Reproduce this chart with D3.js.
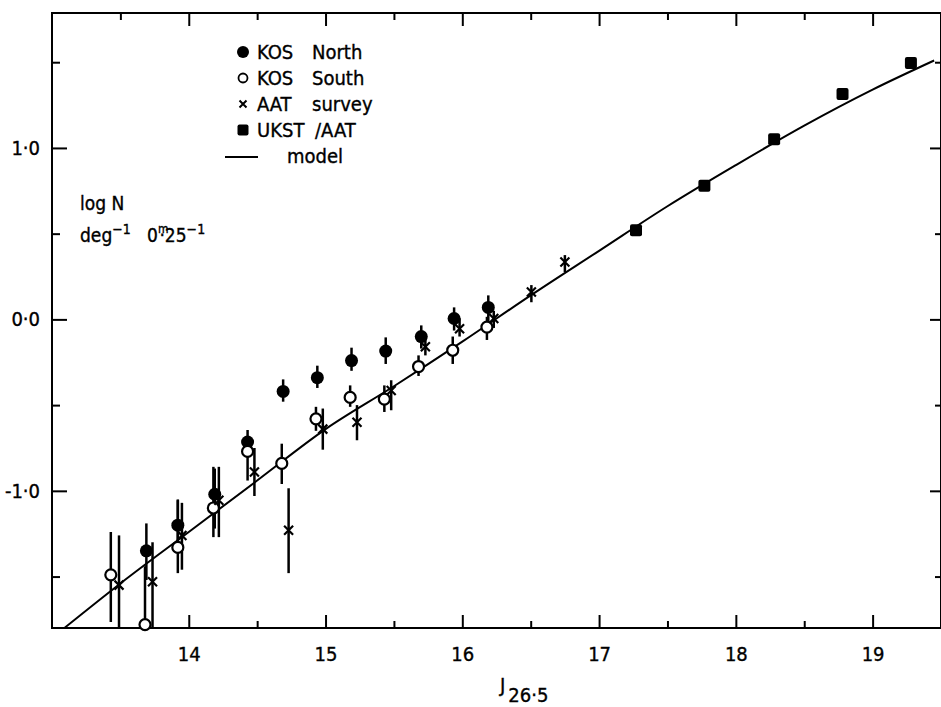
<!DOCTYPE html>
<html>
<head>
<meta charset="utf-8">
<script src="https://cdn.jsdelivr.net/npm/d3@7"></script>
<style>
  body { margin: 0; background: #fff; }
  svg text { font-family: "Liberation Sans Narrow", "DejaVu Sans Condensed", "Roboto", sans-serif; fill: #000; stroke: #000; stroke-width: 0.35px; }
</style>
</head>
<body>
<svg id="chart" width="941" height="707"></svg>
<script>
// KOS North (filled circles)
var kosNorthJ    = [13.69, 13.92, 14.19, 14.43, 14.69, 14.94, 15.19, 15.44, 15.70, 15.94, 16.19];
var kosNorthLogN = [-1.35, -1.20, -1.02, -0.715, -0.42, -0.34, -0.24, -0.185, -0.10, 0.005, 0.07];
var kosNorthLo   = [-1.52, -1.36, -1.22, -0.80, -0.48, -0.40, -0.30, -0.26, -0.17, -0.065, -0.01];
var kosNorthHi   = [-1.19, -1.05, -0.87, -0.645, -0.35, -0.27, -0.165, -0.105, -0.035, 0.07, 0.14];

// KOS South (open circles)
var kosSouthJ    = [13.43, 13.68, 13.92, 14.18, 14.43, 14.68, 14.93, 15.18, 15.43, 15.68, 15.93, 16.18];
var kosSouthLogN = [-1.49, -1.78, -1.33, -1.10, -0.77, -0.84, -0.58, -0.455, -0.465, -0.275, -0.18, -0.045];
var kosSouthLo   = [-1.765, -1.80, -1.48, -1.27, -0.94, -0.96, -0.65, -0.51, -0.54, -0.33, -0.26, -0.12];
var kosSouthHi   = [-1.24, -1.44, -1.055, -0.86, -0.685, -0.725, -0.51, -0.385, -0.385, -0.21, -0.10, 0.015];

// AAT survey (crosses)
var aatJ    = [13.49, 13.735, 13.95, 14.22, 14.48, 14.73, 14.98, 15.23, 15.48, 15.73, 15.98, 16.23, 16.505, 16.75];
var aatLogN = [-1.55, -1.53, -1.26, -1.055, -0.89, -1.23, -0.64, -0.60, -0.415, -0.16, -0.055, 0.005, 0.16, 0.335];
var aatLo   = [-1.80, -1.80, -1.46, -1.27, -1.03, -1.48, -0.76, -0.705, -0.53, -0.21, -0.10, -0.05, 0.10, 0.276];
var aatHi   = [-1.26, -1.30, -1.07, -0.86, -0.75, -0.985, -0.52, -0.50, -0.355, -0.10, 0.006, 0.05, 0.20, 0.375];

// UKST / AAT (filled squares)
var ukstJ    = [17.27, 17.77, 18.28, 18.78, 19.28];
var ukstLogN = [0.52, 0.78, 1.05, 1.315, 1.495];

// model curve
var modelJ    = [13.09, 13.5, 14.0, 14.5, 15.0, 15.5, 16.0, 16.5, 17.0, 17.5, 18.0, 18.5, 19.0, 19.45];
var modelLogN = [-1.80, -1.54, -1.24, -0.94, -0.64, -0.39, -0.13, 0.14, 0.40, 0.66, 0.90, 1.13, 1.34, 1.51];

// ticks
var xMajor = [14, 15, 16, 17, 18, 19];
var xMinorBottom = [14.5, 15.5, 16.5, 17.5, 18.5];
var xMinorTop = [13.5, 14.5, 15.5, 16.5, 17.5, 18.5, 19.5];
var yMajor = [-1, 0, 1];
var yMinor = [-1.5, -0.5, 0.5, 1.5];
var yLabels = {"1": "1·0", "0": "0·0", "-1": "-1·0"};

var svg = d3.select("#chart");
var padL = 52, padR = 941, padT = 13, padB = 628;

var x = d3.scaleLinear().domain([13, 19.5]).range([padL, padR]);
var y = d3.scaleLinear().domain([-1.8, 1.787]).range([padB, padT]);

function zip(a, b, c, d){
    return a.map(function(v, i){ return {j: v, n: b[i], lo: c ? c[i] : null, hi: d ? d[i] : null}; });
}

// frame
svg.append("rect")
    .attr("x", padL).attr("y", padT)
    .attr("width", padR - padL).attr("height", padB - padT)
    .attr("fill", "none").attr("stroke", "#000").attr("stroke-width", 2);

// axes with inward ticks
function tickStyle(g){
    g.select(".domain").remove();
    g.selectAll(".tick line").attr("stroke", "#000").attr("stroke-width", 2);
    g.selectAll("text").style("font-size", "20px");
}

svg.append("g").attr("transform", "translate(0," + padB + ")")
    .call(d3.axisBottom(x).tickValues(xMajor).tickSize(-13).tickPadding(19).tickFormat(d3.format("d")))
    .call(tickStyle);
svg.append("g").attr("transform", "translate(0," + padB + ")")
    .call(d3.axisBottom(x).tickValues(xMinorBottom).tickSize(-7).tickFormat(""))
    .call(tickStyle);
svg.append("g").attr("transform", "translate(0," + padT + ")")
    .call(d3.axisTop(x).tickValues(xMajor).tickSize(-13).tickFormat(""))
    .call(tickStyle);
svg.append("g").attr("transform", "translate(0," + padT + ")")
    .call(d3.axisTop(x).tickValues(xMinorTop).tickSize(-7).tickFormat(""))
    .call(tickStyle);
svg.append("g").attr("transform", "translate(" + padL + ",0)")
    .call(d3.axisLeft(y).tickValues(yMajor).tickSize(-15).tickPadding(12).tickFormat(function(d){ return yLabels[d]; }))
    .call(tickStyle);
svg.append("g").attr("transform", "translate(" + padL + ",0)")
    .call(d3.axisLeft(y).tickValues(yMinor).tickSize(-8).tickFormat(""))
    .call(tickStyle);
svg.append("g").attr("transform", "translate(" + padR + ",0)")
    .call(d3.axisRight(y).tickValues(yMajor).tickSize(-11).tickFormat(""))
    .call(tickStyle);
svg.append("g").attr("transform", "translate(" + padR + ",0)")
    .call(d3.axisRight(y).tickValues(yMinor).tickSize(-6).tickFormat(""))
    .call(tickStyle);

// clip the model curve to the plot area
svg.append("clipPath").attr("id", "clip")
    .append("rect").attr("x", padL).attr("y", padT)
    .attr("width", padR - padL).attr("height", padB - padT);
var plot = svg.append("g");

var line = d3.line()
    .x(function(d){ return x(d.j); })
    .y(function(d){ return y(d.n); })
    .curve(d3.curveMonotoneX);
plot.append("path")
    .datum(zip(modelJ, modelLogN))
    .attr("clip-path", "url(#clip)")
    .attr("d", line)
    .attr("fill", "none").attr("stroke", "#000").attr("stroke-width", 2);

// error bars
function errBars(data){
    plot.append("g").selectAll("line")
        .data(data).enter().append("line")
        .attr("x1", function(d){ return x(d.j); })
        .attr("x2", function(d){ return x(d.j); })
        .attr("y1", function(d){ return y(d.lo); })
        .attr("y2", function(d){ return y(d.hi); })
        .attr("stroke", "#000").attr("stroke-width", 2.5);
}
var north = zip(kosNorthJ, kosNorthLogN, kosNorthLo, kosNorthHi);
var south = zip(kosSouthJ, kosSouthLogN, kosSouthLo, kosSouthHi);
var aat = zip(aatJ, aatLogN, aatLo, aatHi);
errBars(north);
errBars(south);
errBars(aat);

plot.append("g").selectAll("circle")
    .data(north).enter().append("circle")
    .attr("cx", function(d){ return x(d.j); })
    .attr("cy", function(d){ return y(d.n); })
    .attr("r", 6.5).attr("fill", "#000");

plot.append("g").selectAll("circle")
    .data(south).enter().append("circle")
    .attr("cx", function(d){ return x(d.j); })
    .attr("cy", function(d){ return y(d.n); })
    .attr("r", 5.5).attr("fill", "#fff").attr("stroke", "#000").attr("stroke-width", 2.2);

plot.append("g").selectAll("path")
    .data(aat).enter().append("path")
    .attr("d", function(d){
        var cx = x(d.j), cy = y(d.n), s = 4.5;
        return "M" + (cx - s) + "," + (cy - s) + "L" + (cx + s) + "," + (cy + s) +
               "M" + (cx - s) + "," + (cy + s) + "L" + (cx + s) + "," + (cy - s);
    })
    .attr("stroke", "#000").attr("stroke-width", 2.2);

plot.append("g").selectAll("rect")
    .data(zip(ukstJ, ukstLogN)).enter().append("rect")
    .attr("x", function(d){ return x(d.j) - 6; })
    .attr("y", function(d){ return y(d.n) - 6; })
    .attr("width", 12).attr("height", 12).attr("rx", 2)
    .attr("fill", "#000");

// legend
var leg = svg.append("g").style("font-size", "20px");
var legY = [52, 78, 104, 130, 157];
leg.append("circle").attr("cx", 243).attr("cy", legY[0]).attr("r", 6).attr("fill", "#000");
leg.append("circle").attr("cx", 243).attr("cy", legY[1]).attr("r", 4.5)
    .attr("fill", "#fff").attr("stroke", "#000").attr("stroke-width", 1.8);
leg.append("path")
    .attr("d", "M239.5," + (legY[2] - 3.5) + "L246.5," + (legY[2] + 3.5) + "M239.5," + (legY[2] + 3.5) + "L246.5," + (legY[2] - 3.5))
    .attr("stroke", "#000").attr("stroke-width", 2);
leg.append("rect").attr("x", 237.5).attr("y", legY[3] - 5.5).attr("width", 11).attr("height", 11).attr("rx", 2).attr("fill", "#000");
leg.append("line").attr("x1", 225).attr("x2", 258).attr("y1", legY[4]).attr("y2", legY[4])
    .attr("stroke", "#000").attr("stroke-width", 2);

var legText = [["KOS", "North"], ["KOS", "South"], ["AAT", "survey"], ["UKST", "/AAT"]];
legText.forEach(function(t, i){
    leg.append("text").attr("x", 257).attr("y", legY[i] + 7).text(t[0]);
    leg.append("text").attr("x", i == 3 ? 315 : 312).attr("y", legY[i] + 7).text(t[1]);
});
leg.append("text").attr("x", 287).attr("y", legY[4] + 6).text("model");

// y axis label
var yl = svg.append("g").style("font-size", "19px");
yl.append("text").attr("x", 80).attr("y", 210).text("log N");
var t2 = yl.append("text").attr("x", 80).attr("y", 242);
t2.append("tspan").text("deg");
t2.append("tspan").attr("dy", -8).style("font-size", "14px").text("−1");
t2.append("tspan").attr("x", 147).attr("dy", 8).text("0");
t2.append("tspan").attr("dy", -9).style("font-size", "12px").text("m");
t2.append("tspan").attr("dx", -9).attr("dy", 9).text("·25");
t2.append("tspan").attr("dy", -8).style("font-size", "14px").text("−1");

// x axis label
var xl = svg.append("text").attr("x", 500).attr("y", 692).style("font-size", "20px");
xl.append("tspan").text("J");
xl.append("tspan").attr("dx", 3).attr("dy", 10).text("26·5");
</script>
</body>
</html>
